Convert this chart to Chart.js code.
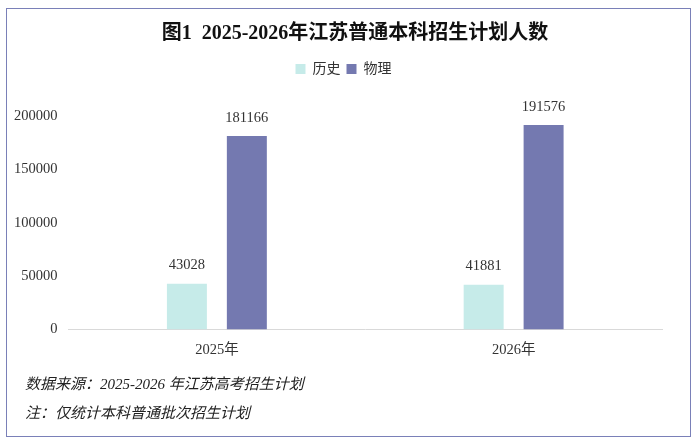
<!DOCTYPE html>
<html>
<head>
<meta charset="utf-8">
<script src="https://cdn.jsdelivr.net/npm/chart.js@4.4.1/dist/chart.umd.min.js"></script>
<style>
  html, body { margin: 0; padding: 0; background: #fff; }
  #wrap { position: relative; width: 700px; height: 447px; }
  #frame {
    position: absolute; left: 6px; top: 8px; width: 683px; height: 427px;
    border: 1px solid #7a80b8;
  }
  #title {
    position: absolute; left: 160px; width: 390px; top: 20px; line-height: 24px;
    text-align: center; font-size: 20px; font-weight: bold; color: #111; white-space: nowrap;
    font-family: "Liberation Serif", "Noto Sans CJK SC", serif;
  }
  .note {
    position: absolute; left: 25px; font-style: italic; font-size: 15px; color: #222;
    font-family: "Liberation Serif", "Noto Sans CJK SC", serif;
  }
  canvas { position: absolute; left: 0; top: 0; }
</style>
</head>
<body>
<div id="wrap">
  <canvas id="planChart" width="700" height="447"></canvas>
  <div id="title">图1&nbsp;&nbsp;2025-2026年江苏普通本科招生计划人数</div>
  <div class="note" style="top:372px;">数据来源：2025-2026 年江苏高考招生计划</div>
  <div class="note" style="top:401px;">注：仅统计本科普通批次招生计划</div>
  <div id="frame"></div>
</div>
<script>
const years = ["2025年", "2026年"];
const history = [43028, 41881];
const physics = [181166, 191576];
const yTicks = [0, 50000, 100000, 150000, 200000];

const fontFamily = "'Liberation Serif', 'Noto Sans CJK SC', serif";

// value labels above the bars
const valueLabels = {
  id: "valueLabels",
  afterDatasetsDraw(chart) {
    const ctx = chart.ctx;
    ctx.save();
    ctx.font = "14.5px " + fontFamily;
    ctx.fillStyle = "#333";
    ctx.textAlign = "center";
    ctx.textBaseline = "bottom";
    chart.data.datasets.forEach((ds, i) => {
      chart.getDatasetMeta(i).data.forEach((bar, j) => {
        ctx.fillText(ds.data[j], bar.x, bar.y - 11);
      });
    });
    ctx.restore();
  },
};

// extra room between legend and plot, and nudge legend to the right
const legendGap = {
  id: "legendGap",
  beforeInit(chart) {
    const fit = chart.legend.fit;
    chart.legend.fit = function () {
      fit.bind(chart.legend)();
      this.height += 30;
    };
  },
  afterLayout(chart) {
    chart.legend.left += 11;
    chart.legend.right += 11;
  },
};

const ctx = document.getElementById("planChart").getContext("2d");

new Chart(ctx, {
  type: "bar",
  data: {
    labels: years,
    datasets: [
      {
        label: "历史",
        data: history,
        backgroundColor: "#c6ebe9",
        barPercentage: 0.667,
        categoryPercentage: 0.404,
      },
      {
        label: "物理",
        data: physics,
        backgroundColor: "#7479b0",
        barPercentage: 0.667,
        categoryPercentage: 0.404,
      },
    ],
  },
  options: {
    responsive: false,
    animation: false,
    layout: { padding: { left: 3, right: 38, top: 56, bottom: 84 } },
    scales: {
      y: {
        min: 0,
        max: 200000,
        afterBuildTicks: (axis) => {
          axis.ticks = yTicks.map((v) => ({ value: v }));
        },
        ticks: {
          color: "#333",
          padding: 11,
          font: { size: 14.5, family: fontFamily },
          callback: (v) => String(v),
        },
        grid: { display: false, drawTicks: false },
        border: { display: false },
      },
      x: {
        ticks: {
          color: "#333",
          padding: 4,
          font: { size: 14.5, family: fontFamily },
        },
        grid: { display: false },
        border: { display: true, color: "#d9d9d9", width: 1 },
      },
    },
    plugins: {
      title: { display: false },
      legend: {
        display: true,
        labels: {
          color: "#333",
          boxWidth: 10,
          boxHeight: 10,
          padding: 6,
          font: { size: 14, family: fontFamily },
        },
      },
      tooltip: { enabled: false },
    },
  },
  plugins: [valueLabels, legendGap],
});
</script>
</body>
</html>
